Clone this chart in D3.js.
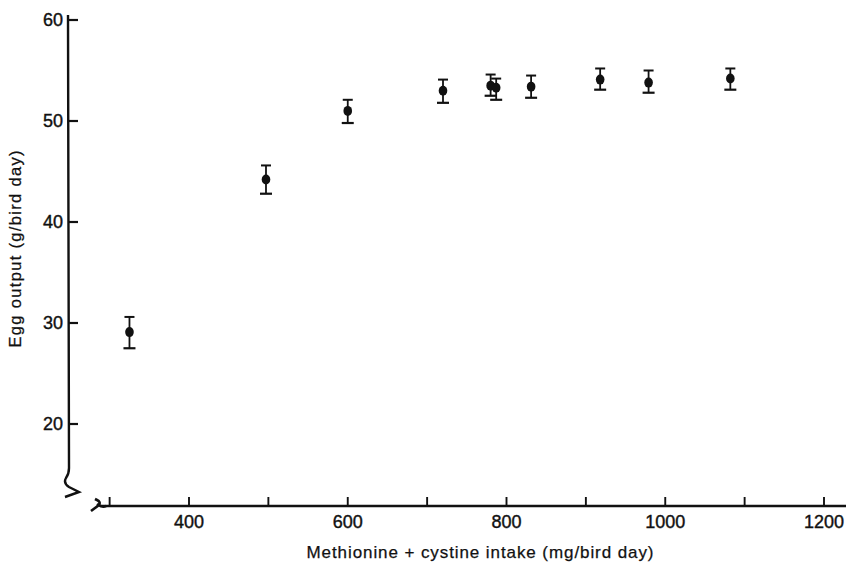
<!DOCTYPE html>
<html>
<head>
<meta charset="utf-8">
<script src="https://cdn.jsdelivr.net/npm/d3@7"></script>
<style>
  body { margin: 0; background: #fff; }
  text { font-family: "Liberation Sans", Arial, sans-serif; fill: #111; }
</style>
</head>
<body>
<div id="chart"></div>
<script>
// intake (mg/bird day) and egg output (g/bird day) with error bars
const intake = [325, 497, 600, 720, 780, 787, 831, 918, 979, 1082];
const eggOut = [29.1, 44.2, 51.0, 53.0, 53.5, 53.3, 53.4, 54.1, 53.8, 54.2];
const errHi  = [30.6, 45.6, 52.1, 54.1, 54.6, 54.2, 54.5, 55.2, 55.0, 55.2];
const errLo  = [27.5, 42.8, 49.8, 51.8, 52.5, 52.1, 52.3, 53.1, 52.8, 53.1];

const yTicks = [20, 30, 40, 50, 60];
const xMajor = [400, 600, 800, 1000, 1200];
const xMinor = [300, 500, 700, 900, 1100];

const width = 849, height = 562;

const svg = d3.select("#chart").append("svg")
    .attr("width", width)
    .attr("height", height);

const x = d3.scaleLinear().domain([400, 1200]).range([189, 824]);
const y = d3.scaleLinear().domain([20, 60]).range([424, 20]);

const axisY = 506;   // position of x axis line
const axisX = 68;    // position of y axis line

// y axis line with break squiggle at the bottom
svg.append("path")
    .attr("d", `M${axisX},15 L${axisX + 1},468 Q${axisX + 1},474 ${axisX - 2},478 Q${axisX - 5},483 ${axisX + 1},487 L${axisX + 11},492 L${axisX - 3},497`)
    .attr("fill", "none")
    .attr("stroke", "#111")
    .attr("stroke-width", 2.4);

// y ticks and labels
svg.selectAll(".ytick")
    .data(yTicks)
    .join("line")
    .attr("x1", axisX)
    .attr("x2", axisX + 10)
    .attr("y1", d => y(d))
    .attr("y2", d => y(d))
    .attr("stroke", "#111")
    .attr("stroke-width", 2.2);

svg.selectAll(".ylab")
    .data(yTicks)
    .join("text")
    .attr("x", axisX - 5)
    .attr("y", d => y(d) + 6)
    .attr("text-anchor", "end")
    .attr("font-size", 18)
    .attr("stroke", "#111")
    .attr("stroke-width", 0.4)
    .text(d => d);

// x axis line with break mark on the left
svg.append("line")
    .attr("x1", 100)
    .attr("x2", 846)
    .attr("y1", axisY)
    .attr("y2", axisY)
    .attr("stroke", "#111")
    .attr("stroke-width", 2.4);

svg.append("path")
    .attr("d", `M91,511 L99,505 Q101,502 97,500 L95,499 M97,504 Q102,508 106,${axisY}`)
    .attr("fill", "none")
    .attr("stroke", "#111")
    .attr("stroke-width", 2.6);

// x ticks point up into the plot
svg.selectAll(".xtick")
    .data(xMajor.concat(xMinor))
    .join("line")
    .attr("x1", d => x(d))
    .attr("x2", d => x(d))
    .attr("y1", axisY)
    .attr("y2", axisY - 9)
    .attr("stroke", "#111")
    .attr("stroke-width", 1.9);

svg.selectAll(".xlab")
    .data(xMajor)
    .join("text")
    .attr("x", d => x(d))
    .attr("y", 528)
    .attr("text-anchor", "middle")
    .attr("font-size", 18)
    .attr("stroke", "#111")
    .attr("stroke-width", 0.4)
    .text(d => d);

// axis titles
svg.append("text")
    .attr("x", 480)
    .attr("y", 558)
    .attr("text-anchor", "middle")
    .attr("font-size", 17)
    .attr("textLength", 347)
    .attr("lengthAdjust", "spacing")
    .attr("stroke", "#111")
    .attr("stroke-width", 0.25)
    .text("Methionine + cystine intake (mg/bird day)");

svg.append("text")
    .attr("transform", "translate(21,249) rotate(-90)")
    .attr("text-anchor", "middle")
    .attr("font-size", 16.5)
    .attr("textLength", 197)
    .attr("lengthAdjust", "spacing")
    .attr("stroke", "#111")
    .attr("stroke-width", 0.25)
    .text("Egg output (g/bird day)");

// points with error bars
const pts = intake.map((d, i) => ({x: d, y: eggOut[i], hi: errHi[i], lo: errLo[i]}));

const g = svg.append("g");

g.selectAll(".bar")
    .data(pts)
    .join("line")
    .attr("x1", d => x(d.x))
    .attr("x2", d => x(d.x))
    .attr("y1", d => y(d.hi))
    .attr("y2", d => y(d.lo))
    .attr("stroke", "#111")
    .attr("stroke-width", 1.8);

g.selectAll(".capTop")
    .data(pts)
    .join("line")
    .attr("x1", d => x(d.x) - 5)
    .attr("x2", d => x(d.x) + 5)
    .attr("y1", d => y(d.hi))
    .attr("y2", d => y(d.hi))
    .attr("stroke", "#111")
    .attr("stroke-width", 2);

g.selectAll(".capBot")
    .data(pts)
    .join("line")
    .attr("x1", d => x(d.x) - 6)
    .attr("x2", d => x(d.x) + 6)
    .attr("y1", d => y(d.lo))
    .attr("y2", d => y(d.lo))
    .attr("stroke", "#111")
    .attr("stroke-width", 2.2);

g.selectAll(".dot")
    .data(pts)
    .join("ellipse")
    .attr("cx", d => x(d.x))
    .attr("cy", d => y(d.y))
    .attr("rx", 4.3)
    .attr("ry", 5)
    .attr("fill", "#111");
</script>
</body>
</html>
